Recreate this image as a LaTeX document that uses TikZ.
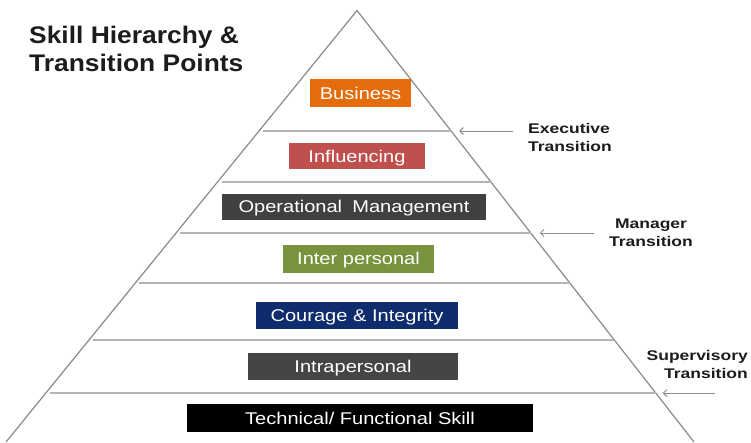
\documentclass[tikz,border=0pt]{standalone}
\usepackage{fontspec}
\setmainfont{Liberation Sans}
\newfontfamily\titlefont{Liberation Sans}[FakeStretch=1.1]
\newfontfamily\boxfont{Liberation Sans}[FakeStretch=1.18]
\newfontfamily\notefont{Liberation Sans}[FakeStretch=1.25]
\usetikzlibrary{calc,arrows.meta}

\definecolor{bizorange}{HTML}{E46C0A}
\definecolor{inflred}{HTML}{C0504D}
\definecolor{opgray}{HTML}{404040}
\definecolor{intgreen}{HTML}{77933C}
\definecolor{couragenavy}{HTML}{0F2D6E}
\definecolor{intragray}{HTML}{454545}
\definecolor{techblack}{HTML}{000000}
\definecolor{edgegray}{HTML}{8A8A8A}
\definecolor{tiergray}{HTML}{B4B4B4}
\definecolor{arrowgray}{HTML}{8C8C8C}
\definecolor{inkdark}{HTML}{1C1C1C}

\begin{document}
\begin{tikzpicture}[x=1pt,y=-1pt,
  edge/.style={draw=edgegray, line width=1.2pt},
  tier/.style={draw=tiergray, line width=1.8pt},
  shift arrow/.style={draw=arrowgray, line width=1pt,
    -{Straight Barb[length=3.5pt,width=7pt]}},
  skill/.style={fill=#1, text=white, inner sep=0pt,
    text height=12.5pt, text depth=0pt,
    font=\boxfont\fontsize{17}{20}\selectfont},
  note/.style={font=\notefont\bfseries\fontsize{14}{18}\selectfont,
    inner sep=0pt, text=inkdark},
]
\useasboundingbox (0,0) rectangle (751,442);

% pyramid outline (base lies at the lower edge)
\coordinate (apex) at (357,10.5);
\coordinate (bl) at (6,442);
\coordinate (br) at (694,442);
\draw[edge] (bl) -- (apex) -- (br);

% tier separators
\foreach \i/\t in {1/0.2793, 2/0.3974, 3/0.5157, 4/0.6315, 5/0.7636, 6/0.8865} {
  \coordinate (sep\i l) at ($(apex)!\t!(bl)+(4,0)$);
  \coordinate (sep\i r) at ($(apex)!\t!(br)$);
  \draw[tier] (sep\i l) -- (sep\i r);
}

% transition arrows
\coordinate (exectail) at (513,0 |- sep1r);
\coordinate (exectip) at ($(sep1r)+(8,0)$);
\coordinate (mgrtail) at (594,0 |- sep3r);
\coordinate (mgrtip) at ($(sep3r)+(9,0)$);
\coordinate (suptail) at (715,0 |- sep6r);
\coordinate (suptip) at ($(sep6r)+(7,0)$);
\draw[shift arrow] (exectail) -- (exectip);
\draw[shift arrow] (mgrtail) -- (mgrtip);
\draw[shift arrow] (suptail) -- (suptip);

% skill boxes
\node[skill=bizorange, minimum width=101pt, minimum height=28pt] (business) at (360.5,93) {Business};
\node[skill=inflred, minimum width=136pt, minimum height=26pt] (influencing) at (357,156) {Influencing};
\node[skill=opgray, minimum width=264pt, minimum height=26pt] (operational) at (354,206.5) {Operational\hspace{0.6em}Management};
\node[skill=intgreen, minimum width=151pt, minimum height=28pt] (interpersonal) at (358.5,258.5) {Inter personal};
\node[skill=couragenavy, minimum width=202pt, minimum height=27pt] (courage) at (357,315.5) {Courage \& Integrity\hspace{13pt}};
\node[skill=intragray, minimum width=210pt, minimum height=27pt] (intrapersonal) at (353,366.5) {Intrapersonal};
\node[skill=techblack, minimum width=346pt, minimum height=28pt] (technical) at (360,418) {Technical/ Functional Skill};

% title and transition labels
\node[anchor=west, align=left, inner sep=0pt, text=inkdark,
  font=\titlefont\bfseries\fontsize{24}{28}\selectfont] (title) at (29,49)
  {Skill Hierarchy \&\\Transition Points};
\node[note, anchor=west, align=left] (execlabel) at (528,137) {Executive\\Transition};
\node[note, align=center] (mgrlabel) at (651,232.5) {Manager\\Transition};
\node[note, anchor=east, align=right] (suplabel) at (748,364) {Supervisory\\Transition};
\end{tikzpicture}
\end{document}
